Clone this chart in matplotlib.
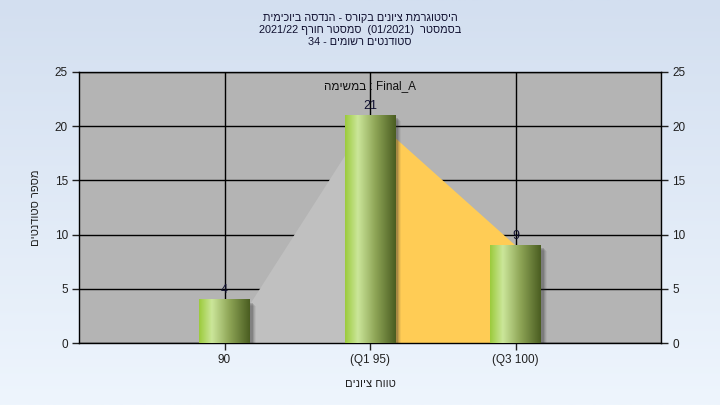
import re
import numpy as np
import matplotlib.pyplot as plt
from matplotlib.colors import LinearSegmentedColormap
from matplotlib.patches import Rectangle

plt.rcParams['font.family'] = ['Liberation Sans', 'DejaVu Sans']

# data
categories = ["90", "(Q1 95)", "(Q3 100)"]
counts = [4, 21, 9]
title_lines = [
    "היסטוגרמת ציונים בקורס - הנדסה ביוכימית",
    "בסמסטר  (01/2021)  סמסטר חורף 2021/22",
    "סטודנטים רשומים - 34",
]
task_label = "Final_A : במשימה"
x_title = "טווח ציונים"
y_title = "מספר סטודנטים"


def rtl(s):
    # matplotlib has no bidi support: lay out a right-to-left line by hand
    t = s[::-1]
    t = re.sub(r"[0-9A-Za-z_][0-9A-Za-z_/.]*[0-9A-Za-z_]|[0-9A-Za-z_]",
               lambda m: m.group(0)[::-1], t)
    return t.translate({ord('('): ')', ord(')'): '('})


fig = plt.figure(figsize=(7.2, 4.05), dpi=100)

# light blue background gradient
bg = fig.add_axes([0, 0, 1, 1], zorder=-10)
bg_cmap = LinearSegmentedColormap.from_list('bg', ['#d3dff0', '#eef5fd'])
bg.imshow(np.linspace(0, 1, 256).reshape(-1, 1), cmap=bg_cmap, aspect='auto',
          extent=[0, 1, 1, 0])
bg.axis('off')

ax = fig.add_axes([79 / 720, 1 - 343 / 405, 582 / 720, 271 / 405])
ax.set_facecolor('#b4b4b4')
x = np.arange(len(categories))

# shaded areas behind the bars
ax.fill_between(x[:2], [0, counts[1]], color='#c0c0c0', lw=0, zorder=1)
ax.fill_between(x[1:], counts[1:], color='#ffcc55', lw=0, zorder=1)

ax.set_axisbelow(True)
ax.grid(True, color='black', lw=1)

bar_cmap = LinearSegmentedColormap.from_list(
    'bar', [(0, '#9ccb3c'), (0.25, '#cbe69a'), (0.6, '#8ea556'), (1, '#4a5d21')])
grad = np.linspace(0, 1, 128).reshape(1, -1)
w = 0.35
for xi, v in zip(x, counts):
    # soft shadow to the right/below
    for k, a in zip([6, 5, 4, 3], [0.06, 0.1, 0.14, 0.2]):
        ax.add_patch(Rectangle((xi - w / 2 + k / 145.5, -k / 10.84), w, v,
                               color='#303030', alpha=a, lw=0, zorder=2))
    ax.imshow(grad, cmap=bar_cmap, aspect='auto', zorder=3,
              extent=[xi - w / 2, xi + w / 2, 0, v])
    ax.text(xi, v + 0.35, str(v), ha='center', va='bottom', fontsize=9,
            color='#101030', zorder=5)

ax.text(x[1], 23.7, rtl(task_label), ha='center', va='center', fontsize=8.5,
        color='#101010', zorder=5)

ax.set_xlim(-1, 3)
ax.set_ylim(0, 25)
ax.set_xticks(x)
ax.set_xticklabels(categories)
ax.set_yticks(range(0, 26, 5))
ax.tick_params(axis='both', direction='out', length=5, width=1, labelsize=8.5,
               colors='#202020', pad=3)
ax.tick_params(axis='y', right=True, labelright=True)
for sp in ax.spines.values():
    sp.set_color('black')
    sp.set_linewidth(1)

ax.set_xlabel(rtl(x_title), fontsize=8, color='#202020', labelpad=9)
ax.set_ylabel(rtl(y_title), fontsize=8, color='#202020', labelpad=10)

for i, line in enumerate(title_lines):
    fig.text(0.5, 1 - (18 + 12 * i) / 405, rtl(line), ha='center', va='center',
             fontsize=7.8, color='#101030')

fig.savefig('out.png', dpi=100)
